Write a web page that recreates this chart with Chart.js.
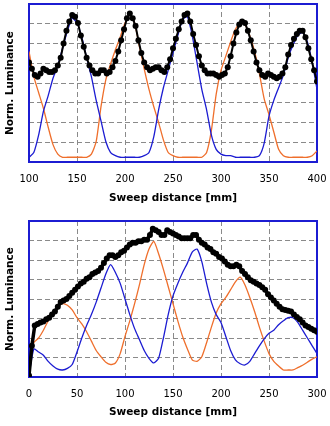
<!DOCTYPE html>
<html>
<head>
<meta charset="utf-8">
<script src="https://cdn.jsdelivr.net/npm/chart.js@4.4.1/dist/chart.umd.min.js"></script>
<style>
  html, body { margin: 0; padding: 0; background: #fff; }
  #wrap { position: relative; width: 330px; height: 426px; }
  canvas { position: absolute; left: 0; }
</style>
</head>
<body>
<div id="wrap">
  <canvas id="sweepTop" width="330" height="208" style="top:0"></canvas>
  <canvas id="sweepBottom" width="330" height="218" style="top:208px"></canvas>
</div>
<script>
// upper sweep, 100..400 mm
const topBlack = [
  0.63, 0.59, 0.55, 0.54, 0.56, 0.59, 0.58, 0.57, 0.57, 0.58, 0.61, 0.66, 0.75, 0.83, 0.89, 0.93, 0.92,
  0.88, 0.80, 0.73, 0.66, 0.61, 0.58, 0.56, 0.56, 0.58, 0.58, 0.56, 0.57, 0.60, 0.64, 0.70, 0.77, 0.84,
  0.91, 0.94, 0.91, 0.86, 0.77, 0.69, 0.63, 0.60, 0.58, 0.59, 0.60, 0.60, 0.58, 0.57, 0.60, 0.65, 0.72,
  0.78, 0.84, 0.89, 0.93, 0.94, 0.89, 0.81, 0.74, 0.67, 0.61, 0.58, 0.56, 0.56, 0.56, 0.55, 0.54, 0.55,
  0.56, 0.60, 0.67, 0.75, 0.82, 0.87, 0.89, 0.88, 0.83, 0.77, 0.70, 0.63, 0.58, 0.55, 0.54, 0.56, 0.55,
  0.54, 0.53, 0.54, 0.56, 0.60, 0.68, 0.74, 0.78, 0.81, 0.83, 0.83, 0.79, 0.72, 0.65, 0.58, 0.51
];
const topBlue = [
  0.03, 0.06, 0.17, 0.32, 0.42, 0.53, 0.61, 0.72, 0.83, 0.91, 0.88, 0.79, 0.66, 0.54, 0.39, 0.26,
  0.13, 0.06, 0.04, 0.03, 0.03, 0.03, 0.03, 0.03, 0.04, 0.06, 0.16, 0.33, 0.47, 0.58, 0.69, 0.80,
  0.90, 0.92, 0.80, 0.63, 0.46, 0.33, 0.17, 0.08, 0.05, 0.04, 0.04, 0.03, 0.03, 0.03, 0.03, 0.03,
  0.04, 0.12, 0.29, 0.39, 0.47, 0.55, 0.66, 0.74, 0.80, 0.82, 0.76, 0.63, 0.46
];
const topOrange = [
  0.70, 0.54, 0.44, 0.34, 0.22, 0.11, 0.05, 0.03, 0.03, 0.03, 0.03, 0.03, 0.03, 0.05, 0.13, 0.35,
  0.52, 0.62, 0.71, 0.79, 0.88, 0.93, 0.88, 0.73, 0.59, 0.46, 0.35, 0.25, 0.14, 0.06, 0.04, 0.03,
  0.03, 0.03, 0.03, 0.03, 0.03, 0.06, 0.20, 0.43, 0.58, 0.67, 0.76, 0.84, 0.88, 0.87, 0.80, 0.70,
  0.56, 0.40, 0.30, 0.19, 0.08, 0.04, 0.03, 0.03, 0.03, 0.03, 0.03, 0.04, 0.07
];

// lower sweep, 0..300 mm
const bottomBlack = [
  0.01, 0.20, 0.33, 0.34, 0.35, 0.355, 0.37, 0.38, 0.40, 0.42, 0.45, 0.48, 0.49, 0.50, 0.52, 0.54, 0.56,
  0.58, 0.60, 0.61, 0.63, 0.64, 0.66, 0.67, 0.68, 0.70, 0.73, 0.76, 0.78, 0.78, 0.77, 0.78, 0.80, 0.81,
  0.83, 0.85, 0.86, 0.86, 0.87, 0.87, 0.88, 0.88, 0.91, 0.95, 0.94, 0.93, 0.91, 0.91, 0.94, 0.93, 0.92,
  0.91, 0.90, 0.89, 0.89, 0.89, 0.89, 0.91, 0.91, 0.88, 0.86, 0.85, 0.83, 0.82, 0.80, 0.79, 0.77, 0.76,
  0.74, 0.72, 0.71, 0.71, 0.72, 0.71, 0.68, 0.66, 0.64, 0.62, 0.61, 0.60, 0.59, 0.575, 0.56, 0.53, 0.51,
  0.49, 0.47, 0.45, 0.435, 0.43, 0.425, 0.42, 0.40, 0.385, 0.37, 0.35, 0.33, 0.32, 0.31, 0.30, 0.29
];
const bottomBlue = [
  0.01, 0.18, 0.16, 0.14, 0.10, 0.07, 0.05, 0.045, 0.055, 0.08, 0.16, 0.25, 0.33, 0.40, 0.48, 0.57,
  0.66, 0.72, 0.67, 0.60, 0.50, 0.40, 0.31, 0.24, 0.17, 0.12, 0.09, 0.12, 0.25, 0.40, 0.52, 0.60,
  0.67, 0.73, 0.80, 0.82, 0.74, 0.60, 0.48, 0.40, 0.35, 0.26, 0.17, 0.11, 0.085, 0.077, 0.10, 0.15,
  0.20, 0.245, 0.28, 0.30, 0.335, 0.36, 0.38, 0.38, 0.35, 0.30, 0.25, 0.20, 0.15
];
const bottomOrange = [
  0.01, 0.22, 0.25, 0.30, 0.36, 0.41, 0.45, 0.47, 0.46, 0.43, 0.38, 0.34, 0.29, 0.23, 0.17, 0.13,
  0.095, 0.08, 0.09, 0.15, 0.26, 0.36, 0.47, 0.59, 0.72, 0.82, 0.87, 0.79, 0.69, 0.58, 0.47, 0.36,
  0.26, 0.18, 0.11, 0.10, 0.13, 0.22, 0.32, 0.41, 0.47, 0.51, 0.56, 0.61, 0.64, 0.59, 0.51, 0.42,
  0.32, 0.23, 0.15, 0.10, 0.07, 0.045, 0.045, 0.045, 0.06, 0.075, 0.095, 0.115, 0.13
];

const BLUE = "#1c1cd2";
const ORANGE = "#ef6f2c";
const GRID = "#8a8a8a";
const titleFont = { family: "DejaVu Sans", size: 10.5, weight: "bold" };
const tickFont = { family: "DejaVu Sans", size: 10 };

// samples are taken at a fixed spacing along the sweep
function along(start, step, values) {
  return values.map((v, i) => ({ x: start + step * i, y: v }));
}

// blue frame round the plot area
const plotFrame = {
  id: "plotFrame",
  beforeDatasetsDraw(chart) {
    const { ctx, chartArea: a } = chart;
    ctx.save();
    ctx.strokeStyle = BLUE;
    ctx.lineWidth = 2;
    ctx.strokeRect(a.left, a.top, a.right - a.left, a.bottom - a.top);
    ctx.restore();
  }
};

function sweepChart(id, cfg) {
  return new Chart(document.getElementById(id), {
    type: "line",
    data: {
      datasets: [
        {
          data: cfg.black, borderColor: "#000", backgroundColor: "#000",
          borderWidth: cfg.lineW, pointRadius: cfg.dot, pointBorderWidth: 0, order: 0
        },
        { data: cfg.blue, borderColor: BLUE, borderWidth: 1.3, pointRadius: 0, tension: 0.2, order: 1 },
        { data: cfg.orange, borderColor: ORANGE, borderWidth: 1.3, pointRadius: 0, tension: 0.2, order: 2 }
      ]
    },
    options: {
      responsive: false,
      animation: false,
      layout: { padding: { top: cfg.padTop, right: 13, left: 0, bottom: 0 } },
      plugins: { legend: { display: false }, tooltip: { enabled: false } },
      scales: {
        x: {
          type: "linear", min: cfg.min, max: cfg.max,
          ticks: { stepSize: 50, padding: 11, color: "#000", font: tickFont },
          grid: { color: GRID, drawTicks: false },
          border: { display: false, dash: [5, 3] },
          title: {
            display: true, text: "Sweep distance [mm]", color: "#000", font: titleFont,
            padding: { top: 0, bottom: cfg.titlePad }
          },
          afterFit(s) {
            s.height = cfg.xHeight;
            // edge labels fit inside the margins already
            s.paddingLeft = 0;
            s.paddingRight = 0;
          }
        },
        y: {
          min: 0, max: 1,
          ticks: { display: false, stepSize: 0.125 },
          grid: { color: GRID, drawTicks: false },
          border: { display: false, dash: [5, 3] },
          title: {
            display: true, text: "Norm. Luminance", color: "#000", font: titleFont,
            padding: { top: 4, bottom: 0 }
          },
          afterFit(s) { s.width = 29; }
        }
      }
    },
    plugins: [plotFrame]
  });
}

sweepChart("sweepTop", {
  black: along(100, 3, topBlack),
  blue: along(100, 5, topBlue),
  orange: along(100, 5, topOrange),
  min: 100, max: 400, padTop: 4, xHeight: 46, titlePad: 3, dot: 3, lineW: 2
});

sweepChart("sweepBottom", {
  black: along(0, 3, bottomBlack),
  blue: along(0, 5, bottomBlue),
  orange: along(0, 5, bottomOrange),
  min: 0, max: 300, padTop: 13, xHeight: 49, titlePad: 7, dot: 3, lineW: 3.5
});
</script>
</body>
</html>
